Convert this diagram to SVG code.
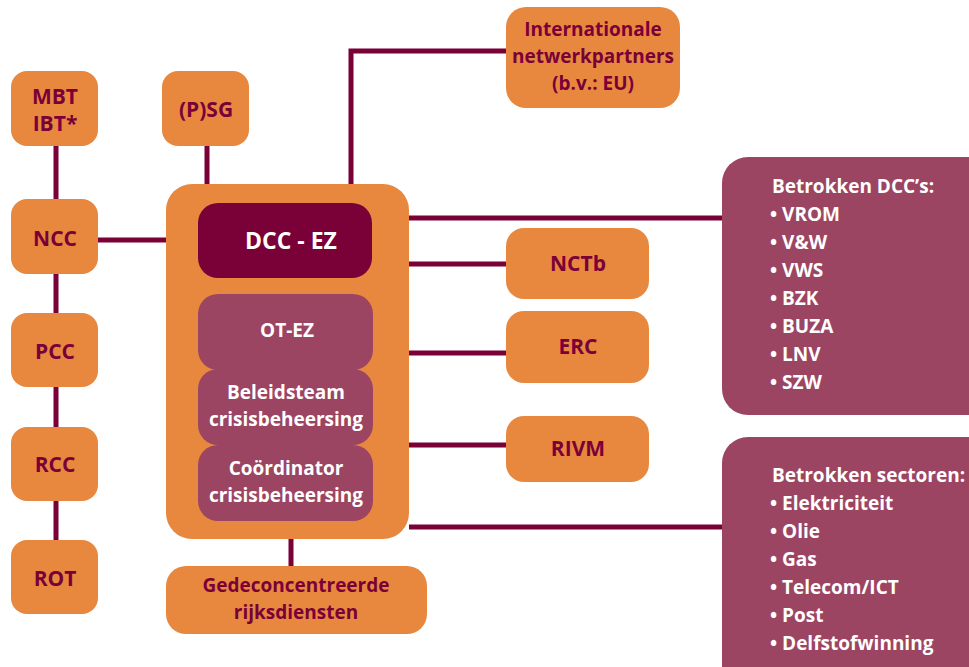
<svg xmlns="http://www.w3.org/2000/svg" width="969" height="667" viewBox="0 0 969 667">
<style>
.o{fill:#e8883f}
.d{fill:#7a0038}
.p{fill:#9c4563}
.t{font-family:"Open Sans","Noto Sans",sans-serif;font-weight:bold;font-size:19px;fill:#7a0038;text-anchor:middle;dominant-baseline:central}
.b{font-size:21px}
.w{font-family:"Open Sans","Noto Sans",sans-serif;font-weight:bold;font-size:19px;fill:#fff;text-anchor:middle;dominant-baseline:central}
.l{font-family:"Open Sans","Noto Sans",sans-serif;font-weight:bold;font-size:19px;fill:#fff;dominant-baseline:central}
.c{stroke:#7a0038;stroke-width:5;fill:none}
</style>
<rect width="969" height="667" fill="#fff"/>
<g id="connectors">
<line class="c" x1="56" y1="146" x2="56" y2="540"/>
<line class="c" x1="98" y1="240" x2="166" y2="240"/>
<line class="c" x1="207" y1="146" x2="207" y2="184"/>
<polyline class="c" points="351,184 351,51 506,51"/>
<line class="c" x1="409" y1="218" x2="722" y2="218"/>
<line class="c" x1="409" y1="264" x2="506" y2="264"/>
<line class="c" x1="409" y1="353" x2="506" y2="353"/>
<line class="c" x1="409" y1="445" x2="506" y2="445"/>
<line class="c" x1="409" y1="527" x2="722" y2="527"/>
<line class="c" x1="291" y1="539" x2="291" y2="566"/>
</g>
<g id="mbt"><rect class="o" x="11" y="71" width="87" height="75" rx="16"/><text class="t b" x="55" y="96">MBT</text><text class="t b" x="55" y="123">IBT*</text></g>
<g id="psg"><rect class="o" x="162" y="71" width="87" height="75" rx="16"/><text class="t b" x="206" y="109">(P)SG</text></g>
<g id="ncc"><rect class="o" x="11" y="199" width="87" height="75" rx="16"/><text class="t b" x="55" y="238">NCC</text></g>
<g id="pcc"><rect class="o" x="11" y="313" width="87" height="74" rx="16"/><text class="t b" x="55" y="351">PCC</text></g>
<g id="rcc"><rect class="o" x="11" y="427" width="87" height="74" rx="16"/><text class="t b" x="55" y="464">RCC</text></g>
<g id="rot"><rect class="o" x="11" y="540" width="87" height="74" rx="16"/><text class="t b" x="55" y="578">ROT</text></g>
<g id="main"><rect class="o" x="166" y="184" width="243" height="355" rx="26"/></g>
<g id="dcc-ez"><rect class="d" x="198" y="203" width="174" height="75" rx="20"/><text class="w" x="291" y="240" style="font-size:23px">DCC - EZ</text></g>
<g id="ot-ez"><rect class="p" x="198" y="294" width="175" height="76" rx="20"/><text class="w" x="287" y="330">OT-EZ</text></g>
<g id="beleidsteam"><rect class="p" x="198" y="369" width="175" height="76" rx="20"/><text class="w" x="286" y="392">Beleidsteam</text><text class="w" x="286" y="419">crisisbeheersing</text></g>
<g id="coordinator"><rect class="p" x="198" y="445" width="175" height="76" rx="20"/><text class="w" x="286" y="468">Coördinator</text><text class="w" x="286" y="495">crisisbeheersing</text></g>
<g id="internationale"><rect class="o" x="506" y="7" width="174" height="101" rx="20"/><text class="t" x="593" y="29">Internationale</text><text class="t" x="593" y="56">netwerkpartners</text><text class="t" x="593" y="83">(b.v.: EU)</text></g>
<g id="nctb"><rect class="o" x="506" y="228" width="143" height="71" rx="18"/><text class="t b" x="578" y="263">NCTb</text></g>
<g id="erc"><rect class="o" x="506" y="311" width="143" height="72" rx="18"/><text class="t b" x="578" y="346">ERC</text></g>
<g id="rivm"><rect class="o" x="506" y="416" width="143" height="66" rx="18"/><text class="t b" x="578" y="448">RIVM</text></g>
<g id="gedeconcentreerde"><rect class="o" x="166" y="566" width="261" height="68" rx="20"/><text class="t" x="296" y="585">Gedeconcentreerde</text><text class="t" x="296" y="612">rijksdiensten</text></g>
<g id="dccs"><rect class="p" x="722" y="157" width="272" height="258" rx="26"/>
<text class="l" x="772" y="186">Betrokken DCC’s:</text>
<text class="l" x="770" y="214">• VROM</text>
<text class="l" x="770" y="242">• V&amp;W</text>
<text class="l" x="770" y="270">• VWS</text>
<text class="l" x="770" y="298">• BZK</text>
<text class="l" x="770" y="326">• BUZA</text>
<text class="l" x="770" y="354">• LNV</text>
<text class="l" x="770" y="382">• SZW</text></g>
<g id="sectoren"><rect class="p" x="722" y="437" width="272" height="260" rx="26"/>
<text class="l" x="772" y="475">Betrokken sectoren:</text>
<text class="l" x="770" y="503">• Elektriciteit</text>
<text class="l" x="770" y="531">• Olie</text>
<text class="l" x="770" y="559">• Gas</text>
<text class="l" x="770" y="587">• Telecom/ICT</text>
<text class="l" x="770" y="615">• Post</text>
<text class="l" x="770" y="643">• Delfstofwinning</text></g>
</svg>
